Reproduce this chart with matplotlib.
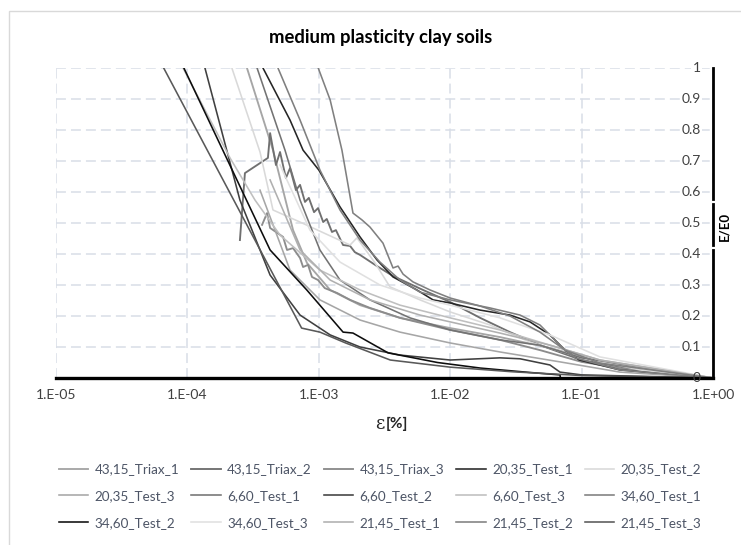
import numpy as np
import matplotlib
matplotlib.use("Agg")
import matplotlib.pyplot as plt
from matplotlib.patches import Rectangle
from matplotlib.lines import Line2D
from matplotlib.transforms import blended_transform_factory

plt.rcParams["font.family"] = ["Lato", "DejaVu Sans"]

# ---- data: strain [%] and normalised modulus E/E0 for each test ----
triax1_eps = [2.84e-4, 4.48e-4, 6.37e-4, 8.13e-4, 1.22e-3, 2.06e-3, 4.15e-3, 1e-2, 2.39e-2, 5.74e-2, 0.138, 1.0]
triax1_E = [1.0, 0.735, 0.477, 0.371, 0.284, 0.235, 0.194, 0.161, 0.132, 0.097, 0.052, 0.0]

triax2_eps = [2.51e-4, 2.74e-4, 4.10e-4, 4.26e-4, 4.72e-4, 5.07e-4, 5.62e-4, 6.04e-4, 6.70e-4, 7.20e-4,
              7.85e-4, 8.40e-4, 9.20e-4, 9.87e-4, 1.08e-3, 1.15e-3, 1.26e-3, 1.35e-3, 1.53e-3, 1.73e-3,
              1.88e-3, 2.06e-3, 2.77e-3, 3.67e-3, 6.21e-3, 1e-2, 1.69e-2, 2.85e-2, 4.82e-2, 0.1, 0.332, 1.0]
triax2_E = [0.445, 0.661, 0.710, 0.790, 0.687, 0.729, 0.645, 0.677, 0.606, 0.623,
            0.568, 0.581, 0.535, 0.548, 0.503, 0.513, 0.471, 0.477, 0.429, 0.426,
            0.406, 0.397, 0.361, 0.329, 0.284, 0.245, 0.194, 0.148, 0.106, 0.058, 0.019, 0.0]

triax3_eps = [3.70e-4, 4.04e-4, 4.26e-4, 4.72e-4, 5.35e-4, 5.73e-4, 6.37e-4, 7.20e-4, 7.59e-4, 8.28e-4,
              8.87e-4, 9.87e-4, 1.11e-3, 1.38e-3, 1.73e-3, 2.45e-3, 4.15e-3, 1e-2, 2.39e-2, 4.82e-2,
              0.1, 0.332, 1.0]
triax3_E = [0.494, 0.532, 0.484, 0.471, 0.455, 0.413, 0.419, 0.387, 0.358, 0.365,
            0.326, 0.316, 0.290, 0.274, 0.252, 0.226, 0.194, 0.155, 0.123, 0.090,
            0.052, 0.016, 0.0]

t2035_1_eps = [3.76e-4, 6.04e-4, 7.59e-4, 1e-3, 1.45e-3, 2.06e-3, 2.77e-3, 3.67e-3, 5.58e-3, 7.4e-3,
               1e-2, 1.69e-2, 2.85e-2, 4.05e-2, 5.74e-2, 7.48e-2, 9.6e-2, 0.196, 1.0]
t2035_1_E = [1.0, 0.832, 0.735, 0.671, 0.552, 0.455, 0.381, 0.326, 0.284, 0.252,
             0.242, 0.219, 0.203, 0.181, 0.139, 0.090, 0.058, 0.026, 0.0]

t2035_2_eps = [2.18e-4, 3.57e-4, 4.48e-4, 7.2e-4, 1.73e-3, 1.95e-3, 2.68e-3, 3.48e-3, 5.89e-3, 1e-2,
               2.01e-2, 4.05e-2, 0.1, 0.278, 1.0]
t2035_2_E = [1.0, 0.729, 0.542, 0.503, 0.429, 0.452, 0.371, 0.294, 0.252, 0.213,
             0.171, 0.116, 0.065, 0.026, 0.0]

t2035_3_eps = [3.57e-4, 6.04e-4, 1.02e-3, 2.06e-3, 4.15e-3, 1e-2, 2.39e-2, 6.85e-2, 0.196, 1.0]
t2035_3_E = [0.606, 0.348, 0.252, 0.187, 0.148, 0.113, 0.084, 0.052, 0.019, 0.0]

t660_1_eps = [3.39e-4, 5.53e-4, 7.2e-4, 1.02e-3, 1.45e-3, 2.45e-3, 4.94e-3, 1e-2, 2.39e-2, 4.82e-2, 0.1, 1.0]
t660_1_E = [1.0, 0.735, 0.574, 0.413, 0.316, 0.252, 0.194, 0.155, 0.123, 0.106, 0.065, 0.0]

t660_2_eps = [1.36e-4, 2.51e-4, 4.26e-4, 7.2e-4, 1.22e-3, 2.06e-3, 4.15e-3, 1e-2, 2.39e-2, 3.4e-2,
              5.74e-2, 6.85e-2, 0.1, 1.0]
t660_2_E = [1.0, 0.574, 0.332, 0.203, 0.139, 0.100, 0.074, 0.058, 0.065, 0.062,
            0.042, 0.019, 0.010, 0.0]

t660_3_eps = [9.26e-5, 2.11e-4, 3.27e-4, 5.07e-4, 1.02e-3, 2.06e-3, 4.15e-3, 1e-2, 2.39e-2, 5.74e-2, 0.138, 1.0]
t660_3_E = [1.0, 0.710, 0.574, 0.461, 0.348, 0.284, 0.235, 0.194, 0.155, 0.106, 0.058, 0.0]

t3460_1_eps = [4.89e-4, 7.2e-4, 1.02e-3, 1.45e-3, 2.06e-3, 2.92e-3, 4.15e-3, 5.89e-3, 1e-2, 2.01e-2,
               3.4e-2, 4.82e-2, 6.85e-2, 8.9e-2, 0.196, 1.0]
t3460_1_E = [1.0, 0.832, 0.671, 0.542, 0.445, 0.374, 0.316, 0.277, 0.252, 0.226,
             0.203, 0.171, 0.106, 0.065, 0.026, 0.0]

t3460_2_eps = [9.4e-5, 4.26e-4, 8.1e-4, 1.53e-3, 1.82e-3, 3.37e-3, 8e-3, 1.7e-2, 4e-2, 6.85e-2, 6.9e-2, 1.0]
t3460_2_E = [1.0, 0.413, 0.284, 0.148, 0.145, 0.081, 0.050, 0.032, 0.018, 0.010, 0.0, 0.0]

t3460_3_eps = [5.07e-4, 8.57e-4, 1.45e-3, 2.92e-3, 5.89e-3, 1e-2, 2.39e-2, 5.74e-2, 0.138, 1.0]
t3460_3_E = [0.687, 0.477, 0.374, 0.300, 0.258, 0.235, 0.194, 0.139, 0.068, 0.0]

t2145_1_eps = [4.26e-4, 7.2e-4, 1.22e-3, 2.45e-3, 5.89e-3, 1e-2, 2.39e-2, 5.74e-2, 0.138, 1.0]
t2145_1_E = [0.639, 0.413, 0.316, 0.252, 0.203, 0.181, 0.145, 0.106, 0.058, 0.0]

t2145_2_eps = [9.9e-4, 1.22e-3, 1.5e-3, 1.82e-3, 2.13e-3, 2.45e-3, 3.08e-3, 3.67e-3, 4.01e-3, 4.38e-3,
               5.21e-3, 7.02e-3, 1e-2, 1.69e-2, 2.85e-2, 4.82e-2, 7.48e-2, 0.138, 1.0]
t2145_2_E = [1.0, 0.897, 0.735, 0.532, 0.510, 0.487, 0.435, 0.355, 0.361, 0.335,
             0.310, 0.284, 0.258, 0.232, 0.200, 0.148, 0.090, 0.048, 0.0]

t2145_3_eps = [6.6e-5, 7.4e-4, 1.02e-3, 1.6e-3, 3.5e-3, 1e-2, 3e-2, 0.1, 1.0]
t2145_3_E = [1.0, 0.161, 0.148, 0.113, 0.058, 0.035, 0.020, 0.008, 0.0]

series_names = ["43,15_Triax_1", "43,15_Triax_2", "43,15_Triax_3", "20,35_Test_1", "20,35_Test_2",
                "20,35_Test_3", "6,60_Test_1", "6,60_Test_2", "6,60_Test_3", "34,60_Test_1",
                "34,60_Test_2", "34,60_Test_3", "21,45_Test_1", "21,45_Test_2", "21,45_Test_3"]
series_colors = ["#a6a6a6", "#707070", "#8c8c8c", "#262626", "#d9d9d9",
                 "#a6a6a6", "#737373", "#404040", "#bfbfbf", "#7f7f7f",
                 "#0d0d0d", "#e0e0e0", "#b0b0b0", "#808080", "#595959"]
series_data = [(triax1_eps, triax1_E), (triax2_eps, triax2_E), (triax3_eps, triax3_E),
               (t2035_1_eps, t2035_1_E), (t2035_2_eps, t2035_2_E), (t2035_3_eps, t2035_3_E),
               (t660_1_eps, t660_1_E), (t660_2_eps, t660_2_E), (t660_3_eps, t660_3_E),
               (t3460_1_eps, t3460_1_E), (t3460_2_eps, t3460_2_E), (t3460_3_eps, t3460_3_E),
               (t2145_1_eps, t2145_1_E), (t2145_2_eps, t2145_2_E), (t2145_3_eps, t2145_3_E)]

x_ticks = [1e-5, 1e-4, 1e-3, 1e-2, 1e-1, 1e0]
x_tick_labels = ["1.E-05", "1.E-04", "1.E-03", "1.E-02", "1.E-01", "1.E+00"]
y_ticks = [0.0, 0.1, 0.2, 0.3, 0.4, 0.5, 0.6, 0.7, 0.8, 0.9, 1.0]
y_tick_labels = ["0", "0.1", "0.2", "0.3", "0.4", "0.5", "0.6", "0.7", "0.8", "0.9", "1"]

W, H = 741, 545
fig = plt.figure(figsize=(W / 100, H / 100), dpi=100)
ax = fig.add_axes([56 / W, 1 - 378 / H, (713 - 56) / W, (378 - 68) / H])

# chart-area border
fig.add_artist(Rectangle((9 / W, -0.5), 2.0, (1 - 11 / H) + 0.5, transform=fig.transFigure,
                         fill=False, ec="#d9d9d9", lw=1.0))

handles = []
for name, col, (eps, E) in zip(series_names, series_colors, series_data):
    lw = 1.35 if "Triax" in name else 1.15
    h, = ax.plot(eps, E, color=col, lw=lw, label=name, solid_joinstyle="round")
    handles.append(h)

ax.set_xscale("log")
ax.set_xlim(1e-5, 1.0)
ax.set_ylim(0, 1.0)
ax.set_xticks(x_ticks)
ax.set_xticklabels(x_tick_labels)
ax.xaxis.set_minor_locator(matplotlib.ticker.NullLocator())
ax.set_yticks(y_ticks)
ax.tick_params(axis="x", length=0, pad=8, labelsize=10, labelcolor="#404040")
ax.tick_params(axis="y", length=0, labelleft=False, labelright=False)

ax.grid(True, color="#d9dee7", lw=1.1, linestyle=(0, (6.5, 3.3)))
ax.set_axisbelow(True)

for s in ("top", "left"):
    ax.spines[s].set_visible(False)
ax.spines["bottom"].set_color("black")
ax.spines["bottom"].set_linewidth(2.4)
ax.spines["bottom"].set_zorder(5)
ax.spines["right"].set_color("black")
ax.spines["right"].set_linewidth(2.0)

# value labels drawn inside the plot, next to the right-hand axis
tr = blended_transform_factory(ax.transAxes, ax.transData)
for v, lab in zip(y_ticks, y_tick_labels):
    kw = {}
    if v > 0:
        kw["bbox"] = dict(boxstyle="square,pad=0.1", fc="white", ec="none")
    ax.text(0.981, v, lab, transform=tr, ha="right", va="center", fontsize=10,
            color="#404040", zorder=6, **kw)

# axis title on the right, with small breaks in the axis line
ax.text(1.0175, 0.49, "E/E0", transform=ax.transAxes, rotation=90, ha="center", va="center",
        fontsize=9.5, fontweight="bold", color="black")
for yb in (0.568, 0.419):
    ax.add_line(Line2D([0.994, 1.006], [yb, yb], transform=ax.transAxes, color="white",
                       lw=1.6, clip_on=False, zorder=10))

fig.text(381 / W, 1 - 37 / H, "medium plasticity clay soils", ha="center", va="center",
         fontsize=13.3, fontweight="bold", color="black")

# x-axis title: epsilon followed by the unit
fig.text(384 / W, 1 - 424 / H, "ε", ha="right", va="center", fontsize=13,
         family=["DejaVu Serif"], color="#262626")
fig.text(386 / W, 1 - 424 / H, "[%]", ha="left", va="center", fontsize=11,
         fontweight="bold", color="#262626")

# legend laid out row by row (matplotlib fills columns first)
ncol, nrow = 5, 3
order = [r * ncol + c for c in range(ncol) for r in range(nrow)]
fig.legend(handles=[handles[i] for i in order], labels=[series_names[i] for i in order],
           loc="center", bbox_to_anchor=(380 / W, 1 - 496 / H), ncol=ncol,
           frameon=False, fontsize=9.7, handlelength=2.2, handletextpad=0.45,
           columnspacing=0.9, labelspacing=1.08, labelcolor="#4d5566")

fig.savefig("out.png", dpi=100)
